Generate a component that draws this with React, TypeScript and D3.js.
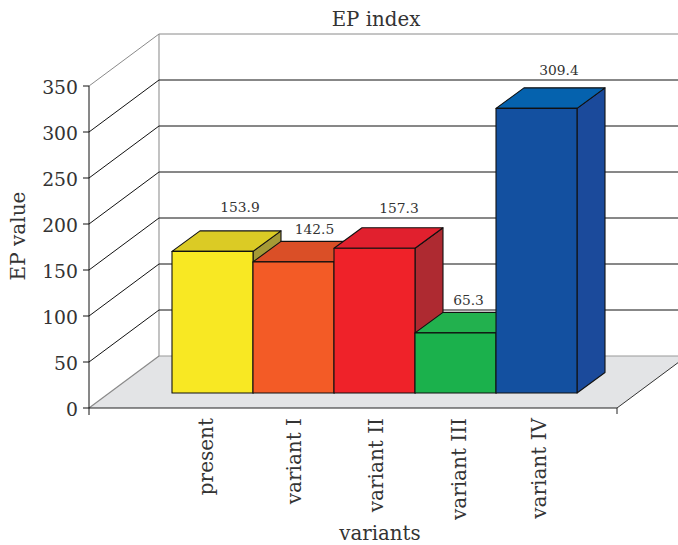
import React from "react";
import * as d3 from "d3";

const categories = ["present", "variant I", "variant II", "variant III", "variant IV"];
const values = [153.9, 142.5, 157.3, 65.3, 309.4];
const yTicks = [0, 50, 100, 150, 200, 250, 300, 350];
const frontColors = ["#f8e823", "#f35b26", "#ef2229", "#1bb14c", "#1350a0"];
const topColors = ["#dbcb25", "#da4f27", "#e1202e", "#22b14e", "#0562ae"];
const sideColors = ["#a59a36", "#a83a2a", "#ae2a31", "#128a3e", "#1b4a9b"];

const FONT = "'DejaVu Serif', serif";

export default function App() {
  const width = 678;
  const height = 545;

  // Front face of the chart box and the offset of its rear wall
  const x0 = 89;
  const x1 = 617;
  const yBase = 408;
  const wallDx = 70;
  const wallDy = -52;

  // Bars stand part way into the floor and have their own depth
  const barBase = 393;
  const barDx = 28;
  const barDy = -20.5;

  const unit = d3.scaleLinear().domain([0, 350]).range([0, 322]);
  const y = (v: number) => yBase - unit(v);
  const band = d3.scaleBand<string>().domain(categories).range([172, 577]).padding(0);
  const barTop = (v: number) => barBase - unit(v);

  // Hand-placed label anchors, nudged so labels clear neighbouring bars
  const labelBaseline = d3.scaleOrdinal<string, number>().domain(categories).range([213, 300.5, 382.5, 466, 546]);
  const valueShiftX = d3.scaleOrdinal<string, number>().domain(categories).range([27.5, 21, 24.5, 13, 22.5]);
  const valueShiftY = d3.scaleOrdinal<string, number>().domain(categories).range([-18.5, -7, -15, -7, -13]);

  const poly = (pts: [number, number][]) => d3.line()(pts) + "Z";

  return (
    <svg
      width={width}
      height={height}
      viewBox={`0 0 ${width} ${height}`}
      style={{ position: "absolute", left: 0, top: 0, background: "#fff" }}
      fontFamily={FONT}
    >
      {/* Floor */}
      <path
        d={poly([
          [x0, yBase],
          [x0 + wallDx, yBase + wallDy],
          [x1 + wallDx, yBase + wallDy],
          [x1, yBase],
        ])}
        fill="#e3e4e6"
        stroke="none"
      />
      <line x1={x0 + wallDx} x2={x1 + wallDx} y1={yBase + wallDy} y2={yBase + wallDy} stroke="#9a9a9a" strokeWidth={1.2} />
      <line x1={x0} x2={x0 + wallDx} y1={yBase} y2={yBase + wallDy} stroke="#8a8a8a" strokeWidth={1.2} />
      <line x1={x1} x2={x1 + wallDx} y1={yBase} y2={yBase + wallDy} stroke="#333" strokeWidth={1} />

      {/* Rear wall and left wall gridlines */}
      <line x1={x0 + wallDx} x2={x0 + wallDx} y1={y(350) + wallDy} y2={yBase + wallDy} stroke="#9a9a9a" strokeWidth={1.2} />
      {yTicks.slice(1).map((t) => (
        <g key={t}>
          <line
            x1={x0 + wallDx}
            x2={x1 + wallDx}
            y1={y(t) + wallDy}
            y2={y(t) + wallDy}
            stroke={t === 350 ? "#8a8a8a" : "#111"}
            strokeWidth={1}
          />
          <line
            x1={x0}
            x2={x0 + wallDx}
            y1={y(t)}
            y2={y(t) + wallDy}
            stroke={t === 350 ? "#8a8a8a" : "#111"}
            strokeWidth={1}
          />
        </g>
      ))}

      {/* Axes */}
      <line x1={x0} x2={x0} y1={y(350)} y2={yBase + 7} stroke="#111" strokeWidth={1} />
      <line x1={x0} x2={x1} y1={yBase} y2={yBase} stroke="#222" strokeWidth={1.2} />
      <line x1={x1} x2={x1} y1={yBase} y2={yBase + 6} stroke="#222" strokeWidth={1} />
      {yTicks.map((t) => (
        <g key={t}>
          <line x1={x0 - 6} x2={x0} y1={y(t)} y2={y(t)} stroke="#111" strokeWidth={1} />
          <text x={78} y={y(t) + 8.3} textAnchor="end" fontSize={18.8} fill="#333">
            {t}
          </text>
        </g>
      ))}

      {/* Bars, drawn left to right so each top overlaps the previous side */}
      {categories.map((c, i) => {
        const left = band(c)!;
        const right = left + band.bandwidth();
        const top = barTop(values[i]);
        return (
          <g key={c} stroke="#111" strokeWidth={1.1} strokeLinejoin="round">
            <path
              d={poly([
                [right, top],
                [right + barDx, top + barDy],
                [right + barDx, barBase + barDy],
                [right, barBase],
              ])}
              fill={sideColors[i]}
            />
            <path
              d={poly([
                [left, top],
                [left + barDx, top + barDy],
                [right + barDx, top + barDy],
                [right, top],
              ])}
              fill={topColors[i]}
            />
            <rect x={left} y={top} width={band.bandwidth()} height={barBase - top} fill={frontColors[i]} />
          </g>
        );
      })}

      {/* Value labels */}
      {categories.map((c, i) => (
        <text
          key={c}
          x={band(c)! + band.bandwidth() / 2 + valueShiftX(c)}
          y={barTop(values[i]) + barDy + valueShiftY(c)}
          textAnchor="middle"
          fontSize={13.8}
          fill="#333"
        >
          {values[i]}
        </text>
      ))}

      {/* Category labels */}
      {categories.map((c) => (
        <text
          key={c}
          transform={`translate(${labelBaseline(c)},418) rotate(-90)`}
          textAnchor="end"
          fontSize={20}
          fill="#333"
        >
          {c}
        </text>
      ))}

      {/* Titles */}
      <text x={376} y={26} textAnchor="middle" fontSize={19.8} fill="#333">
        EP index
      </text>
      <text x={380} y={540} textAnchor="middle" fontSize={19.8} fill="#333">
        variants
      </text>
      <text transform="translate(25,236) rotate(-90)" textAnchor="middle" fontSize={20} fill="#333">
        EP value
      </text>
    </svg>
  );
}
